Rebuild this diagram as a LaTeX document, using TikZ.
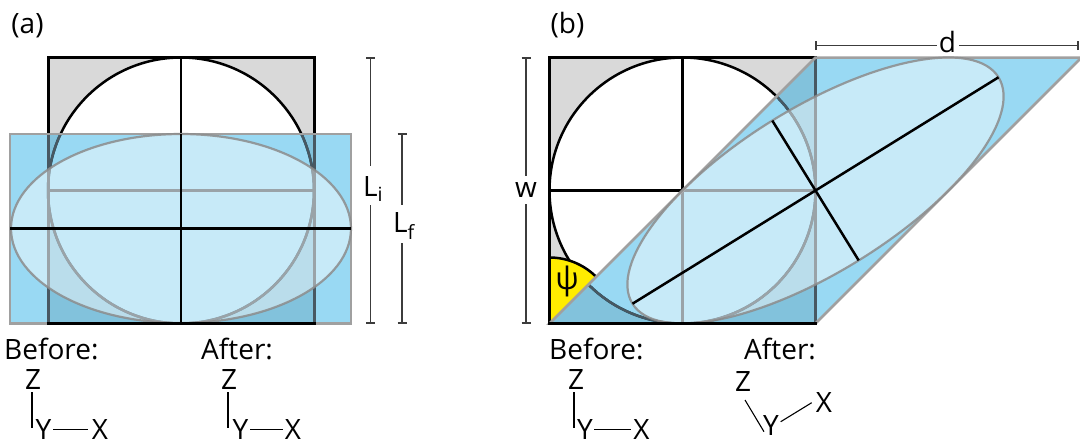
\documentclass[tikz,border=0pt]{standalone}
\usepackage{fontspec}
\setmainfont{Open Sans}
\definecolor{sqgray}{RGB}{217,217,217}
\definecolor{bluebase}{RGB}{0,160,225}
\definecolor{bordergray}{RGB}{160,160,160}
\definecolor{ellgray}{RGB}{140,140,140}
\definecolor{dimgray}{RGB}{60,60,60}
\definecolor{undergray}{RGB}{72,88,98}
\definecolor{psiyellow}{RGB}{255,236,0}
\begin{document}
\begin{tikzpicture}[x=1pt,y=-1pt,
  sqback/.style={fill=sqgray},
  circ/.style={fill=white,draw=black,line width=2.5pt},
  cross/.style={draw=black,line width=2.5pt},
  sqborder/.style={draw=black,line width=3pt},
  bluefill/.style={fill=bluebase,fill opacity=0.4},
  blueedge/.style={draw=bordergray,line width=2.5pt},
  underline/.style={draw=undergray,line width=2.5pt},
  ellregion/.style={fill=white,fill opacity=0.45,draw=ellgray,draw opacity=0.85,line width=2.2pt},
  axisblk/.style={draw=black,line width=2.5pt},
  dimline/.style={draw=dimgray,line width=1.5pt},
  axline/.style={draw=black,line width=1.1pt},
  lbl/.style={font=\fontsize{28}{31}\selectfont,inner sep=0pt}]
\useasboundingbox (0,0) rectangle (1080,445);

% ---------------- panel (a) ----------------
\node[lbl] (la) at (27.5,25.5) {(a)};
\fill[sqback] (48,57.5) rectangle (314,323.5);
\path[circ] (181,190.5) circle[radius=133];
\draw[cross] (48,190.5) -- (314,190.5);
\draw[cross] (181,57.5) -- (181,323.5);
\draw[sqborder] (48,57.5) rectangle (314,323.5);
\path[bluefill] (10,134) rectangle (351,323.5);
\begin{scope}
  \clip (10,134) rectangle (351,323.5);
  \draw[underline] (181,190.5) circle[radius=133];
  \draw[underline] (48,190.5) -- (314,190.5);
  \draw[underline,line width=3pt] (48,57.5) rectangle (314,323.5);
\end{scope}
\path[blueedge] (10,134) rectangle (351,323.5);
\path[ellregion] (181,228.5) ellipse[x radius=170,y radius=94.5];
\draw[axisblk] (10,228.5) -- (351,228.5);
\draw[axisblk] (181,134) -- (181,323.5);
\draw[sqborder] (46.5,323.5) -- (315.5,323.5);

% dimension L_i
\coordinate (Lit) at (370.5,58);
\coordinate (Lib) at (370.5,323);
\coordinate (Li1) at (370.5,166);
\coordinate (Li2) at (370.5,205);
\node[lbl] (Li) at (373,189) {L\textsubscript{i}};
\draw[dimline] (Lit) -- (Li1) (Li2) -- (Lib);
\draw[dimline] ([xshift=-4.5pt]Lit) -- ([xshift=4.5pt]Lit);
\draw[dimline] ([xshift=-4.5pt]Lib) -- ([xshift=4.5pt]Lib);
% dimension L_f
\coordinate (Lft) at (402,134);
\coordinate (Lfb) at (402,323);
\coordinate (Lf1) at (402,205);
\coordinate (Lf2) at (402,243);
\node[lbl] (Lf) at (404,226) {L\textsubscript{f}};
\draw[dimline] (Lft) -- (Lf1) (Lf2) -- (Lfb);
\draw[dimline] ([xshift=-4.5pt]Lft) -- ([xshift=4.5pt]Lft);
\draw[dimline] ([xshift=-4.5pt]Lfb) -- ([xshift=4.5pt]Lfb);

% axes (a) before
\node[lbl,anchor=base west] (beforeA) at (4,359) {Before:};
\node[lbl] (zA1) at (33,379) {Z};
\node[lbl] (yA1) at (43.5,429.5) {Y};
\node[lbl] (xA1) at (100,429.5) {X};
\coordinate (zA1a) at (32,392); \coordinate (zA1b) at (32,428);
\coordinate (yA1a) at (53,429.5); \coordinate (yA1b) at (88,429.5);
\draw[axline] (zA1a) -- (zA1b);
\draw[axline] (yA1a) -- (yA1b);
% axes (a) after
\node[lbl,anchor=base west] (afterA) at (201,359) {After:};
\node[lbl] (zA2) at (229,379) {Z};
\node[lbl] (yA2) at (240.5,429.5) {Y};
\node[lbl] (xA2) at (293,429.5) {X};
\coordinate (zA2a) at (228,392); \coordinate (zA2b) at (228,428);
\coordinate (yA2a) at (250,429.5); \coordinate (yA2b) at (283,429.5);
\draw[axline] (zA2a) -- (zA2b);
\draw[axline] (yA2a) -- (yA2b);

% ---------------- panel (b) ----------------
\node[lbl] (lb) at (567.5,25.5) {(b)};
\fill[sqback] (549.5,57.5) rectangle (815.5,323.5);
\path[circ] (682.5,190.5) circle[radius=133];
\draw[cross] (549.5,190.5) -- (815.5,190.5);
\draw[cross] (682.5,57.5) -- (682.5,323.5);
\fill[psiyellow] (549.5,323.5) -- (549.5,257.5) arc[start angle=-90,end angle=-45,radius=66] -- cycle;
\draw[draw=black,line width=2.5pt] (549.5,257.5) arc[start angle=-90,end angle=-45,radius=66];
\draw[sqborder] (549.5,57.5) rectangle (815.5,323.5);
\path[bluefill] (549.5,323.5) -- (815.5,57.5) -- (1081.5,57.5) -- (815.5,323.5) -- cycle;
\begin{scope}
  \clip (549.5,323.5) -- (815.5,57.5) -- (1081.5,57.5) -- (815.5,323.5) -- cycle;
  \draw[underline] (682.5,190.5) circle[radius=133];
  \draw[underline] (549.5,190.5) -- (815.5,190.5);
  \draw[underline] (682.5,57.5) -- (682.5,323.5);
  \draw[underline,line width=3pt] (549.5,57.5) rectangle (815.5,323.5);
\end{scope}
\path[blueedge] (549.5,323.5) -- (815.5,57.5) -- (1081.5,57.5) -- (815.5,323.5) -- cycle;
\path[ellregion,rotate around={31.72:(815.5,190.5)}] (815.5,190.5) ellipse[x radius=215.2,y radius=82.2];
\coordinate (M1) at (998.5,77.3); \coordinate (M2) at (632.5,303.7);
\coordinate (m1) at (772.3,120.6); \coordinate (m2) at (858.7,260.4);
\draw[axisblk] (M1) -- (M2);
\draw[axisblk] (m1) -- (m2);
\draw[sqborder] (548,323.5) -- (817,323.5);
\node[lbl,font=\fontsize{31}{34}\selectfont] (psi) at (567,281) {ψ};

% dimension w
\coordinate (wt) at (526,58);
\coordinate (wb) at (526,323);
\coordinate (w1) at (526,176);
\coordinate (w2) at (526,204);
\node[lbl] (w) at (526,190) {w};
\draw[dimline] (wt) -- (w1) (w2) -- (wb);
\draw[dimline] ([xshift=-4.5pt]wt) -- ([xshift=4.5pt]wt);
\draw[dimline] ([xshift=-4.5pt]wb) -- ([xshift=4.5pt]wb);
% dimension d
\coordinate (dl) at (816,45.5);
\coordinate (dr) at (1078,45.5);
\coordinate (d1) at (937,45.5);
\coordinate (d2) at (959,45.5);
\node[lbl] (d) at (947.5,42) {d};
\draw[dimline] (dl) -- (d1) (d2) -- (dr);
\draw[dimline] ([yshift=-4.5pt]dl) -- ([yshift=4.5pt]dl);
\draw[dimline] ([yshift=-4.5pt]dr) -- ([yshift=4.5pt]dr);

% axes (b) before
\node[lbl,anchor=base west] (beforeB) at (549,359) {Before:};
\node[lbl] (zB1) at (576,379) {Z};
\node[lbl] (yB1) at (585,429.5) {Y};
\node[lbl] (xB1) at (641.5,429.5) {X};
\coordinate (zB1a) at (574,392); \coordinate (zB1b) at (574,428);
\coordinate (yB1a) at (594,429.5); \coordinate (yB1b) at (631,429.5);
\draw[axline] (zB1a) -- (zB1b);
\draw[axline] (yB1a) -- (yB1b);
% axes (b) after
\node[lbl,anchor=base west] (afterB) at (744,359) {After:};
\node[lbl] (zB2) at (743,381) {Z};
\node[lbl] (yB2) at (771,425) {Y};
\node[lbl] (xB2) at (824,402) {X};
\coordinate (zB2a) at (745,400); \coordinate (zB2b) at (764,431.7);
\coordinate (yB2a) at (780.7,421.7); \coordinate (yB2b) at (811.7,402.7);
\draw[axline] (zB2a) -- (zB2b);
\draw[axline] (yB2a) -- (yB2b);
\end{tikzpicture}
\end{document}
